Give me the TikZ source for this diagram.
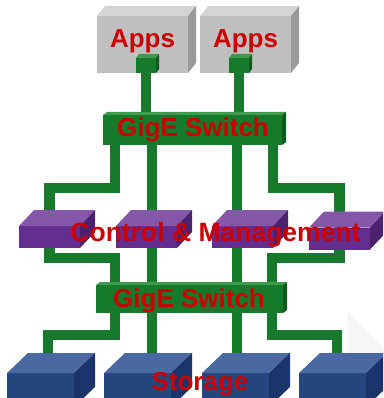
\documentclass[tikz,border=0pt]{standalone}
\usepackage{fontspec}
\setmainfont{Liberation Sans}
\usetikzlibrary{positioning,calc}

\definecolor{appsfront}{HTML}{C0C0C0}
\definecolor{appstop}{HTML}{D4D4D4}
\definecolor{appsside}{HTML}{9A9A9A}
\definecolor{lan}{HTML}{17792B}
\definecolor{lantop}{HTML}{3E9B4E}
\definecolor{lanside}{HTML}{0E5A1C}
\definecolor{cmfront}{HTML}{652C90}
\definecolor{cmtop}{HTML}{8457A8}
\definecolor{cmside}{HTML}{4A2270}
\definecolor{stfront}{HTML}{26467F}
\definecolor{sttop}{HTML}{4A69A3}
\definecolor{stside}{HTML}{1B356A}
\definecolor{alarm}{HTML}{CC0000}

\pgfdeclarelayer{background}
\pgfdeclarelayer{foreground}
\pgfsetlayers{background,main,foreground}

% top and side faces of a box: node, depth, top colour, side colour
\newcommand{\boxfaces}[4]{%
  \fill[#3] (#1.north west) -- ++(#2) -- ($(#1.north east)+(#2)$) -- (#1.north east) -- cycle;
  \fill[#4] (#1.north east) -- ++(#2) -- ($(#1.south east)+(#2)$) -- (#1.south east) -- cycle;
}

\tikzset{
  face/.style={inner sep=0pt, outer sep=0pt},
  appsbox/.style={face, fill=appsfront, minimum width=91pt, minimum height=57pt},
  port/.style={face, fill=lan, minimum width=20pt, minimum height=15pt},
  switch/.style={face, fill=lan},
  cmbox/.style={face, fill=cmfront, minimum width=61pt, minimum height=22pt},
  stbox/.style={face, fill=stfront, minimum width=67pt, minimum height=34pt},
  wire/.style={draw=lan, line width=10.5pt},
  lbl/.style={inner sep=0pt, anchor=base, text=alarm,
    font=\fontsize{26}{30}\selectfont\bfseries},
}

\begin{document}
\begin{tikzpicture}[x=1pt,y=-1pt]
  \clip (0,0) rectangle (383,398);
  \fill[gray!7] (347,310) -- (383,348) -- (383,398) -- (347,398) -- cycle;

  % application servers
  \node[appsbox] (apps1) at (142.5,44.5) {};
  \node[appsbox, right=12pt of apps1] (apps2) {};
  \boxfaces{apps1}{8,-10}{appstop}{appsside}
  \boxfaces{apps2}{8,-10}{appstop}{appsside}
  \node[port] (port1) at (146,65.5) {};
  \node[port] (port2) at (239,65.5) {};
  \boxfaces{port1}{3,-4}{lantop}{lanside}
  \boxfaces{port2}{3,-4}{lantop}{lanside}

  % switches
  \node[switch, minimum width=179pt, minimum height=30pt] (sw1) at (192.5,130) {};
  \node[switch, minimum width=187pt, minimum height=28pt] (sw2) at (189.5,299) {};
  \boxfaces{sw1}{4,-3}{lantop}{lanside}
  \boxfaces{sw2}{4,-3}{lantop}{lanside}

  % control & management
  \node[cmbox] (cm1) at (49.5,237) {};
  \node[cmbox, right=36pt of cm1] (cm2) {};
  \node[cmbox, right=35pt of cm2] (cm3) {};
  \node[cmbox] (cm4) at (339.5,238.5) {};
  \foreach \n in {cm1,cm2,cm3,cm4} {
    \boxfaces{\n}{15,-16}{cmtop}{cmside}
  }

  % storage
  \node[stbox] (st1) at (40.5,390) {};
  \node[stbox, right=30pt of st1] (st2) {};
  \node[stbox, right=31pt of st2] (st3) {};
  \node[stbox, right=30pt of st3] (st4) {};
  \foreach \n in {st1,st2,st3,st4} {
    \boxfaces{\n}{21,-20}{sttop}{stside}
  }

  \foreach \x [count=\i] in {115,152,237,273}
    \coordinate (up\i) at (sw1.south -| \x,0);
  \foreach \x [count=\i] in {115,152,237,272} {
    \coordinate (mid\i) at (sw2.north -| \x,0);
    \coordinate (dn\i) at (sw2.south -| \x,0);
  }

  \begin{pgfonlayer}{background}
    \draw[wire] (port1) -- (port1 |- sw1.north);
    \draw[wire] (port2) -- (port2 |- sw1.north);
    \draw[wire] (up1) -- ++(0,43) -| (cm1);
    \draw[wire] (up2) -- (up2 |- cm2);
    \draw[wire] (up3) -- (up3 |- cm3);
    \draw[wire] (up4) -- ++(0,43) -| (cm4);
    \draw[wire] (mid1) -- ++(0,-27) -| (cm1);
    \draw[wire] (mid2) -- (mid2 |- cm2);
    \draw[wire] (mid3) -- (mid3 |- cm3);
    \draw[wire] (mid4) -- ++(0,-27) -| (cm4);
    \draw[wire] (dn1) -- ++(0,22) -| ([xshift=7.5pt]st1.north);
    \draw[wire] (dn2) -- (dn2 |- st2.north);
    \draw[wire] (dn3) -- (dn3 |- st3.north);
    \draw[wire] (dn4) -- ++(0,22) -| ([xshift=4.5pt]st4.north);
  \end{pgfonlayer}

  \begin{pgfonlayer}{foreground}
    \node[lbl] (appstext1) at (142.5,48) {Apps};
    \node[lbl] (appstext2) at (245.5,48) {Apps};
    \node[lbl] (swtext1) at (193,137) {GigE Switch};
    \node[lbl] (swtext2) at (189,307) {GigE Switch};
    \node[lbl, font=\fontsize{26.5}{30}\selectfont\bfseries] (cmtext) at (215.5,241) {Control \& Management};
    \node[lbl] (sttext) at (200,390) {Storage};
  \end{pgfonlayer}
\end{tikzpicture}
\end{document}
